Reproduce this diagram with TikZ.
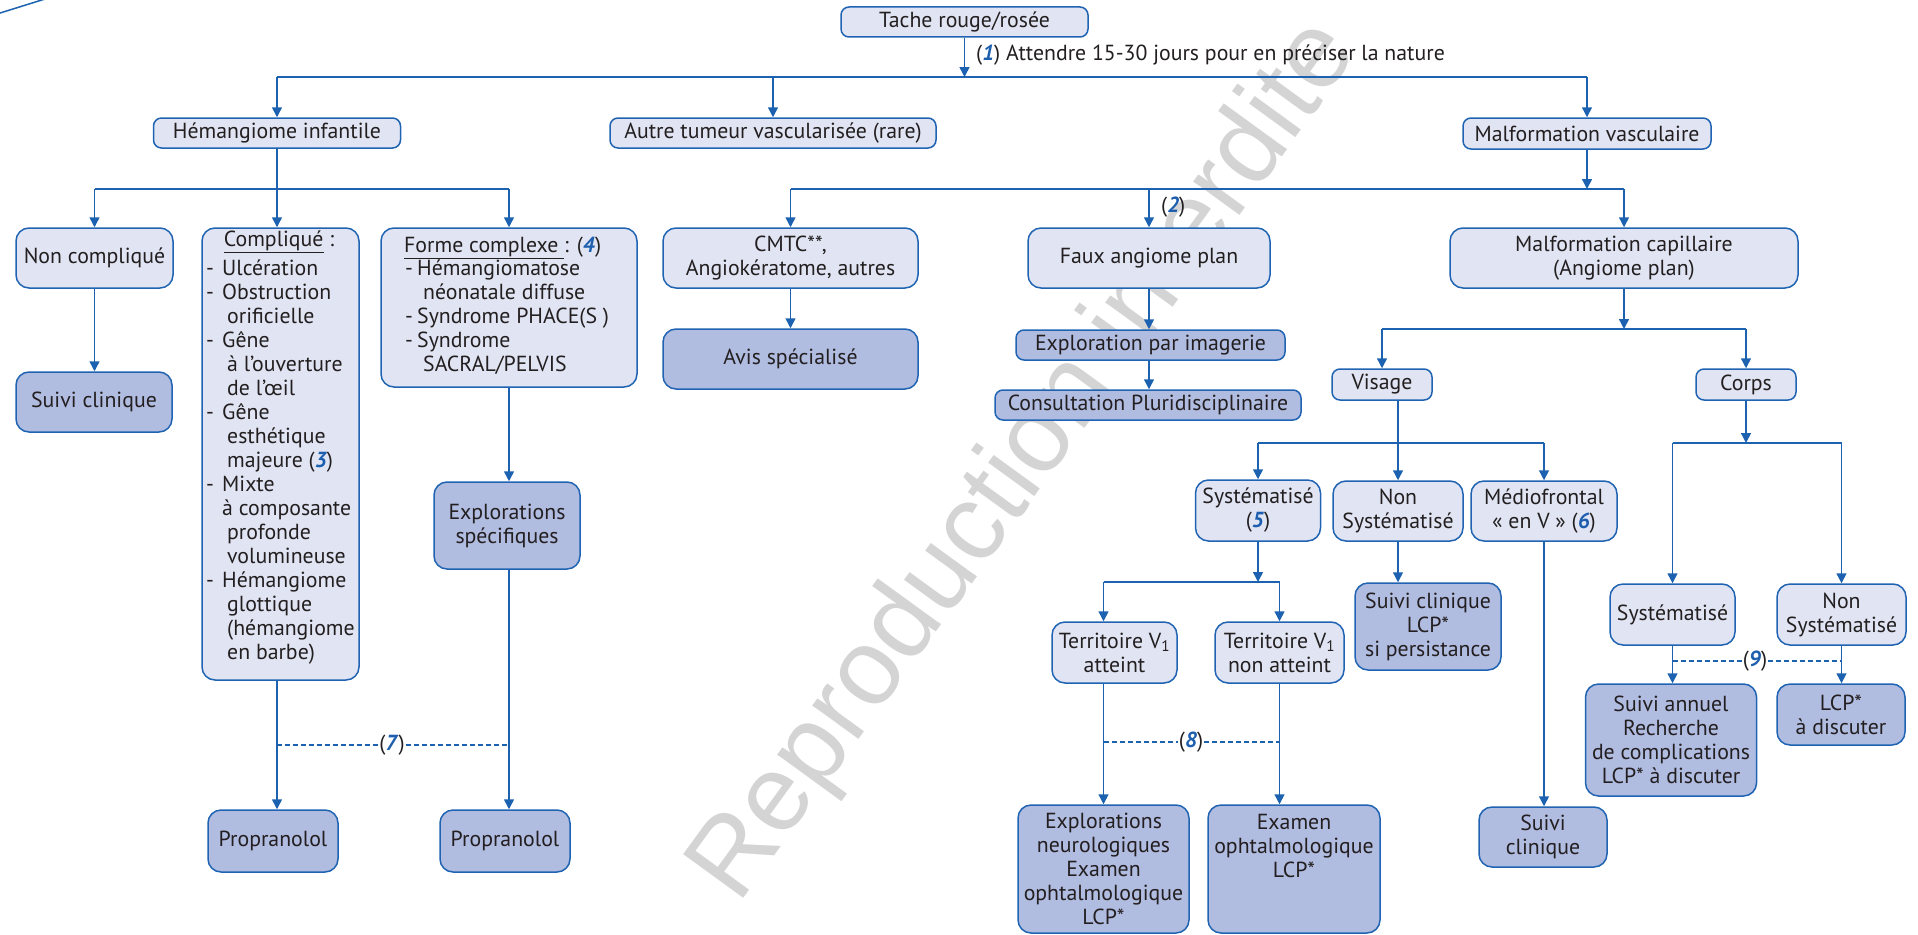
\documentclass[tikz,border=0pt]{standalone}
\usepackage{fontspec}
\setmainfont{PT Sans}
\newfontfamily\wmfont{Liberation Sans}
\usetikzlibrary{arrows.meta}
\definecolor{lineblue}{HTML}{1C62B0}
\definecolor{boxline}{HTML}{1F63B2}
\definecolor{lightfill}{HTML}{E1E5F3}
\definecolor{darkfill}{HTML}{B1BCE1}
\definecolor{txt}{HTML}{231F20}
\definecolor{numblue}{HTML}{1D5FAE}
\newcommand{\nb}[1]{\textcolor{numblue}{\textbf{\textit{#1}}}}

\begin{document}
\begin{tikzpicture}[x=1pt,y=-1pt,
  font=\fontsize{21.8}{24}\selectfont,
  box/.style={draw=boxline, line width=1.5pt, fill=lightfill, rounded corners=13pt,
              inner sep=0pt, align=center, text=txt},
  flat/.style={box, rounded corners=8pt},
  dark/.style={fill=darkfill},
  note/.style={inner sep=1pt, text=txt, align=center},
  wire/.style={draw=lineblue, line width=1.5pt},
  arr/.style={wire, -{Triangle[width=10pt,length=10pt]}},
  hint/.style={draw=lineblue, line width=1.3pt, dash pattern=on 5pt off 3pt}]

\useasboundingbox (0,0) rectangle (1918,934);

% watermark
\node[rotate=54, text=black!17, font=\wmfont\fontsize{108}{112}\selectfont] (wm) at (1026,462) {Reproduction interdite};

% corner stroke
\draw[wire] (-5,14.6) -- (45,-1);

% ---- row 0 / row 1
\node[flat, minimum width=247pt, minimum height=30pt] (tache) at (964.5,22) {Tache rouge/rosée};
\node[flat, minimum width=247pt, minimum height=30pt] (hem) at (277,133) {Hémangiome infantile};
\node[flat, minimum width=326pt, minimum height=30pt] (autre) at (773,133) {Autre tumeur vascularisée (rare)};
\node[flat, minimum width=248pt, minimum height=31pt] (mv) at (1587,133.5) {Malformation vasculaire};

% ---- row 2
\node[box, minimum width=157pt, minimum height=60pt] (noncomp) at (94.5,258) {Non compliqué};
\node[box, minimum width=157pt, minimum height=452pt] (comp) at (280.5,454) {};
\node[box, minimum width=256pt, minimum height=159pt] (forme) at (509,307.5) {};
\node[box, minimum width=255pt, minimum height=60pt] (cmtc) at (790.5,258) {CMTC**,\\Angiokératome, autres};
\node[box, minimum width=242pt, minimum height=60pt] (faux) at (1149,258) {Faux angiome plan};
\node[box, minimum width=348pt, minimum height=60pt] (mc) at (1624,258) {Malformation capillaire\\(Angiome plan)};

% contents of the two list boxes
\node[note, anchor=base, inner sep=0pt] (comptitle) at (279,246) {\underline{Compliqué} :};
\node[note, anchor=base west, inner sep=0pt, align=left] (complist) at (206,275) {\begin{tabular}[t]{@{}p{16pt}@{}l@{}}
-&Ulcération\\
-&Obstruction\\
&\hspace{5pt}orificielle\\
-&Gêne\\
&\hspace{5pt}à l’ouverture\\
&\hspace{5pt}de l’œil\\
-&Gêne\\
&\hspace{5pt}esthétique\\
&\hspace{5pt}majeure (\nb{3})\\
-&Mixte\\
&à composante\\
&\hspace{5pt}profonde\\
&\hspace{5pt}volumineuse\\
-&Hémangiome\\
&\hspace{5pt}glottique\\
&\hspace{5pt}(hémangiome\\
&\hspace{5pt}en barbe)
\end{tabular}};
\node[note, anchor=base west, inner sep=0pt] (formetitle) at (404,252) {\underline{Forme complexe\ }: (\nb{4})};
\node[note, anchor=base west, inner sep=0pt, align=left] (formelist) at (405,275) {\begin{tabular}[t]{@{}p{12pt}@{}l@{}}
-&Hémangiomatose\\
&\hspace{6pt}néonatale diffuse\\
-&Syndrome PHACE(S )\\
-&Syndrome\\
&\hspace{6pt}SACRAL/PELVIS
\end{tabular}};

% ---- results, left part
\node[box, dark, minimum width=156pt, minimum height=60pt] (suivi1) at (94,402) {Suivi clinique};
\node[box, dark, minimum width=146pt, minimum height=87pt] (expl) at (507,525.5) {Explorations\\spécifiques};
\node[box, dark, minimum width=130pt, minimum height=62pt] (prop1) at (273,841) {Propranolol};
\node[box, dark, minimum width=130pt, minimum height=62pt] (prop2) at (505,841) {Propranolol};

% ---- middle part
\node[box, dark, minimum width=255pt, minimum height=60pt] (avis) at (790.5,359) {Avis spécialisé};
\node[flat, dark, minimum width=269pt, minimum height=30pt] (imag) at (1150.5,345) {Exploration par imagerie};
\node[flat, dark, minimum width=306pt, minimum height=30pt] (consult) at (1148,405) {Consultation Pluridisciplinaire};

% ---- capillary malformation subtree
\node[flat, minimum width=100pt, minimum height=31pt] (visage) at (1382,384.5) {Visage};
\node[flat, minimum width=100pt, minimum height=31pt] (corps) at (1746,384.5) {Corps};
\node[box, minimum width=125pt, minimum height=61pt] (sys5) at (1258,510.5) {Systématisé\\(\nb{5})};
\node[box, minimum width=130pt, minimum height=60pt] (nonsys) at (1398,511) {Non\\Systématisé};
\node[box, minimum width=146pt, minimum height=60pt] (medio) at (1544,511) {Médiofrontal\\« en V » (\nb{6})};
\node[box, dark, minimum width=146pt, minimum height=87pt] (suivilcp) at (1428,626.5) {Suivi clinique\\LCP*\\si persistance};
\node[box, minimum width=125pt, minimum height=61pt] (terr1) at (1114.5,652.5) {Territoire V\textsubscript{1}\\atteint};
\node[box, minimum width=129pt, minimum height=61pt] (terr2) at (1279.5,652.5) {Territoire V\textsubscript{1}\\non atteint};
\node[box, dark, minimum width=171pt, minimum height=128pt] (neuro) at (1103.5,869) {Explorations\\neurologiques\\Examen\\ophtalmologique\\LCP*};
\node[box, dark, minimum width=172pt, minimum height=128pt] (ophta) at (1294,869) {};
\node[note, anchor=north, inner sep=0pt] (ophtatxt) at (1294,814) {Examen\\ophtalmologique\\LCP*};
\node[box, dark, minimum width=128pt, minimum height=60pt] (suivi2) at (1543,837) {Suivi\\clinique};
\node[box, minimum width=125pt, minimum height=61pt] (syscorps) at (1672.5,614.5) {Systématisé};
\node[box, minimum width=129pt, minimum height=61pt] (nonsyscorps) at (1841.5,614.5) {Non\\Systématisé};
\node[box, dark, minimum width=171pt, minimum height=112pt] (annuel) at (1671,740) {Suivi annuel\\Recherche\\de complications\\LCP* à discuter};
\node[box, dark, minimum width=128pt, minimum height=61pt] (lcp) at (1841,714.5) {LCP*\\à discuter};

% ---- rails
\coordinate (r1) at (0,77);
\coordinate (r2) at (0,189);
\coordinate (r3) at (0,329);
\coordinate (r4) at (0,443);
\coordinate (r5) at (0,582);

% top split
\draw[arr] (tache.south) -- (tache.south |- r1);
\node[note, anchor=base west] (n1) at (975,60) {(\nb{1}) Attendre 15-30 jours pour en préciser la nature};
\draw[wire] (hem.north |- r1) -- (mv.north |- r1);
\draw[arr] (hem.north |- r1) -- (hem.north);
\draw[arr] (autre.north |- r1) -- (autre.north);
\draw[arr] (mv.north |- r1) -- (mv.north);

% infantile haemangioma
\draw[wire] (noncomp.north |- r2) -- (forme.north |- r2);
\draw[arr] (hem.south) -- (hem.south |- comp.north);
\draw[arr] (noncomp.north |- r2) -- (noncomp.north);
\draw[arr] (forme.north |- r2) -- (forme.north);
\draw[arr] (noncomp.south) -- (noncomp.south |- suivi1.north);
\draw[arr] (forme.south) -- (forme.south |- expl.north);
\draw[arr] (hem.south |- comp.south) -- (hem.south |- prop1.north);
\draw[arr] (forme.south |- expl.south) -- (forme.south |- prop2.north);
\node[note] (n7) at (392,745) {(\nb{7})};
\draw[hint] (hem.south |- n7) -- (n7.west);
\draw[hint] (n7.east) -- (forme.south |- n7);

% vascular malformation
\draw[arr] (mv.south) -- (mv.south |- r2);
\draw[wire] (cmtc.north |- r2) -- (mc.north |- r2);
\draw[arr] (cmtc.north |- r2) -- (cmtc.north);
\draw[arr] (faux.north |- r2) -- (faux.north);
\draw[arr] (mc.north |- r2) -- (mc.north);
\node[note, anchor=west] (n2) at (1160,207) {(\nb{2})};
\draw[arr] (cmtc.south) -- (avis.north);
\draw[arr] (faux.south) -- (faux.south |- imag.north);
\draw[arr] (faux.south |- imag.south) -- (faux.south |- consult.north);

% capillary malformation
\draw[arr] (mc.south) -- (mc.south |- r3);
\draw[wire] (visage.north |- r3) -- (corps.north |- r3);
\draw[arr] (visage.north |- r3) -- (visage.north);
\draw[arr] (corps.north |- r3) -- (corps.north);
\draw[arr] (nonsys.north |- visage.south) -- (nonsys.north);
\draw[wire] (sys5.north |- r4) -- (medio.north |- r4);
\draw[arr] (sys5.north |- r4) -- (sys5.north);
\draw[arr] (medio.north |- r4) -- (medio.north);
\draw[arr] (nonsys.south) -- (nonsys.south |- suivilcp.north);
\draw[arr] (medio.south) -- (medio.south |- suivi2.north);
\draw[arr] (sys5.south) -- (sys5.south |- r5);
\draw[wire] (neuro.north |- r5) -- (terr2.north |- r5);
\draw[arr] (neuro.north |- r5) -- (neuro.north |- terr1.north);
\draw[arr] (terr2.north |- r5) -- (terr2.north);
\draw[arr] (neuro.north |- terr1.south) -- (neuro.north);
\draw[arr] (terr2.south) -- (terr2.south |- ophta.north);
\node[note] (n8) at (1191,742) {(\nb{8})};
\draw[hint] (neuro.north |- n8) -- (n8.west);
\draw[hint] (n8.east) -- (terr2.south |- n8);

% body
\draw[arr] (corps.south) -- (corps.south |- r4);
\draw[wire] (syscorps.north |- r4) -- (nonsyscorps.north |- r4);
\draw[arr] (syscorps.north |- r4) -- (syscorps.north);
\draw[arr] (nonsyscorps.north |- r4) -- (nonsyscorps.north);
\draw[arr] (syscorps.south) -- (syscorps.south |- annuel.north);
\draw[arr] (nonsyscorps.south) -- (nonsyscorps.south |- lcp.north);
\node[note] (n9) at (1755,661) {(\nb{9})};
\draw[hint] (syscorps.south |- n9) -- (n9.west);
\draw[hint] (n9.east) -- (nonsyscorps.south |- n9);
\end{tikzpicture}
\end{document}
